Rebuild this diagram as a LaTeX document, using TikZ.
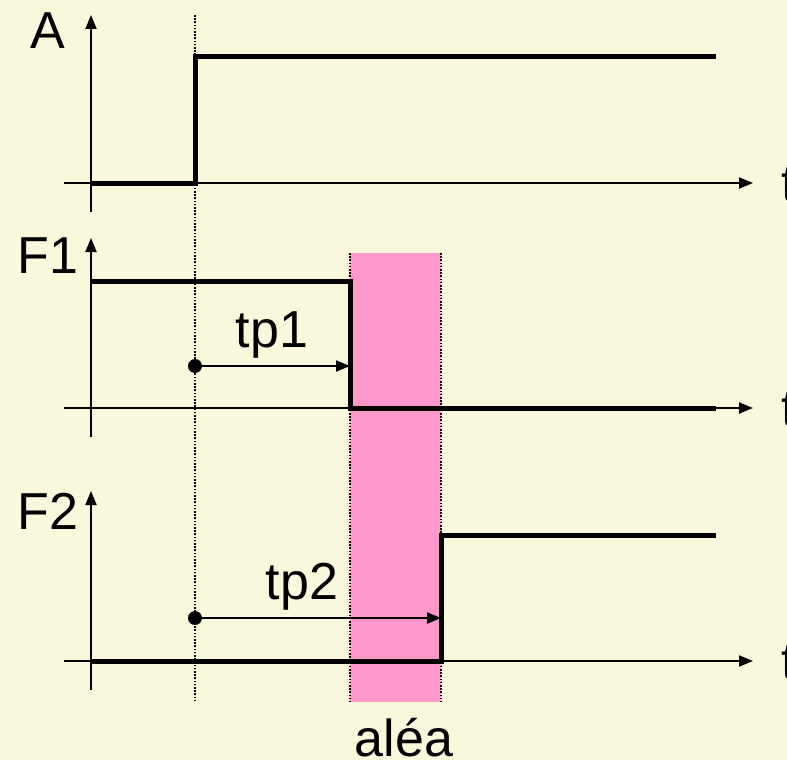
\documentclass[tikz,border=0pt]{standalone}
\usepackage{fontspec}
\setmainfont{Liberation Sans}
\usetikzlibrary{arrows.meta}
\definecolor{bgc}{RGB}{250,248,220}
\definecolor{pinkc}{RGB}{255,153,204}
\tikzset{
  axisline/.style={line width=2pt,-{Triangle[length=14pt,width=11pt]}},
  sigline/.style={line width=5pt,line join=miter,line cap=butt},
  guide/.style={line width=1.6pt,dash pattern=on 1.6pt off 1.6pt},
  delay/.style={line width=2pt,-{Triangle[length=14pt,width=11pt]}},
  lab/.style={font=\fontsize{52}{52}\selectfont,inner sep=0pt},
  dotc/.style={circle,fill=black,inner sep=0pt,minimum size=14pt}
}
\begin{document}
\begin{tikzpicture}[x=1pt,y=-1pt]
\fill[bgc] (0,0) rectangle (787,760);
\useasboundingbox (0,0) rectangle (787,760);
% pink uncertainty band
\fill[pinkc] (350,253) rectangle (441,702);
\draw[guide] (350,253) -- (350,702);
\draw[guide] (441,253) -- (441,702);
% start guide
\draw[guide] (195,15) -- (195,700);
% axes A
\coordinate (aO) at (91,212); \coordinate (aT) at (91,15);
\coordinate (aL) at (64,183); \coordinate (aR) at (753,183);
\draw[axisline] (aO) -- (aT);
\draw[axisline] (aL) -- (aR);
% axes F1
\coordinate (bO) at (91,437); \coordinate (bT) at (91,238);
\coordinate (bL) at (64,408); \coordinate (bR) at (753,408);
\draw[axisline] (bO) -- (bT);
\draw[axisline] (bL) -- (bR);
% axes F2
\coordinate (cO) at (91,690); \coordinate (cT) at (91,491);
\coordinate (cL) at (64,661); \coordinate (cR) at (753,661);
\draw[axisline] (cO) -- (cT);
\draw[axisline] (cL) -- (cR);
% signals
\draw[sigline] (91,183) -- (195,183) -- (195,57) -- (716,57);
\draw[sigline] (91,281) -- (350,281) -- (350,408) -- (716,408);
\draw[sigline] (91,661) -- (441,661) -- (441,535) -- (716,535);
% delays
\node[dotc] (d1) at (195,366) {};
\coordinate (e1) at (350,366);
\draw[delay] (d1.center) -- (e1);
\node[dotc] (d2) at (195,618) {};
\coordinate (e2) at (441,618);
\draw[delay] (d2.center) -- (e2);
% labels
\node[lab] (lA) at (48,31) {A};
\node[lab] (lF1) at (48,256) {F1};
\node[lab] (lF2) at (48,511) {F2};
\node[lab,anchor=west] (t1) at (781,185) {t};
\node[lab,anchor=west] (t2) at (781,410) {t};
\node[lab,anchor=west] (t3) at (781,663) {t};
\node[lab] (tp1) at (272,335) {tp1};
\node[lab] (tp2) at (302,587) {tp2};
\node[lab] (alea) at (404,738) {aléa};
\end{tikzpicture}
\end{document}
